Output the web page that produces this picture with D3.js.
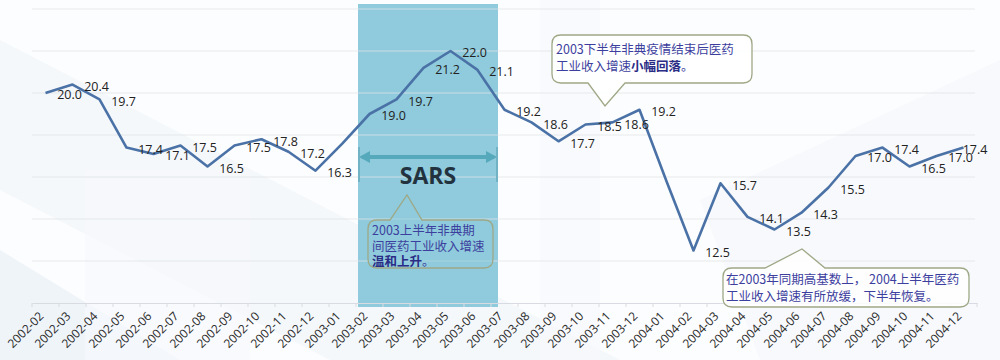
<!DOCTYPE html>
<html><head><meta charset="utf-8">
<script src="https://cdn.jsdelivr.net/npm/d3@7"></script>
<style>
html,body{margin:0;padding:0;background:#fff;}
svg{display:block;}
</style></head>
<body>
<svg id="chart" width="1000" height="360"></svg>
<script>
const categories = ["2002-02","2002-03","2002-04","2002-05","2002-06","2002-07","2002-08","2002-09","2002-10","2002-11","2002-12",
  "2003-01","2003-02","2003-03","2003-04","2003-05","2003-06","2003-07","2003-08","2003-09","2003-10","2003-11","2003-12",
  "2004-01","2004-02","2004-03","2004-04","2004-05","2004-06","2004-07","2004-08","2004-09","2004-10","2004-11","2004-12"];
const values = [20.0,20.4,19.7,17.4,17.1,17.5,16.5,17.5,17.8,17.2,16.3,
  17.6,19.0,19.7,21.2,22.0,21.1,19.2,18.6,17.7,18.5,18.6,19.2,
  15.8,12.5,15.7,14.1,13.5,14.3,15.5,17.0,17.4,16.5,17.0,17.4];
const showLabel = [1,1,1,1,1,1,1,1,1,1,1, 0,1,1,1,1,1,1,1,1,1,1,1, 0,1,1,1,1,1,1,1,1,1,1,1];
const yTicks = [10,12,14,16,18,20,22,24];
const sarsRange = ["2003-02","2003-06"];
const sarsLabel = "SARS";
const notes = [
  {lines:[[["2003上半年非典期",0]],[["间医药工业收入增速",0]],[["温和上升",1],["。",0]]]},
  {lines:[[["2003下半年非典疫情结束后医药",0]],[["工业收入增速",0],["小幅回落",1],["。",0]]]},
  {lines:[[["在2003年同期高基数上， 2004上半年医药",0]],[["工业收入增速有所放缓，下半年恢复。",0]]]}
];

const svg = d3.select("#chart");
const W = 1000, H = 360;
const x0 = 32, x1 = 977, yTop = 9, yBot = 303;
const x = d3.scaleBand().domain(categories).range([x0, x1]).padding(0);
const y = d3.scaleLinear().domain([10, 24]).range([yBot, yTop]);
const cx = d => x(d) + x.bandwidth()/2;

// background watermark
const bg = svg.append("g");
bg.append("rect").attr("width", W).attr("height", H).attr("fill", "#fcfdfe");
bg.append("path").attr("d","M0,40 L0,190 L330,360 L620,360 Z").attr("fill","#f1f5f9").attr("opacity",0.7);
bg.append("path").attr("d","M0,250 L0,360 L180,360 Z").attr("fill","#eaf0f6").attr("opacity",0.7);
bg.append("path").attr("d","M85,170 L250,170 L250,360 L85,360 Z").attr("fill","#f6f8fb").attr("opacity",0.6);
bg.append("path").attr("d","M700,200 L1000,60 L1000,360 L760,360 Z").attr("fill","#f3f6fa").attr("opacity",0.6);
bg.append("path").attr("d","M540,0 L600,0 L600,360 L540,360 Z").attr("fill","#f7f9fb").attr("opacity",0.6);

// SARS rect
const sx0 = x(sarsRange[0]) + 2, sx1 = x(sarsRange[1]) + x.bandwidth() + 7;
svg.append("rect").attr("x", sx0).attr("y", 4).attr("width", sx1 - sx0).attr("height", 303)
  .attr("fill", "#8fcbdc");

// gridlines
svg.append("g").selectAll("line").data(yTicks.slice(1)).join("line")
  .attr("x1", x0).attr("x2", x1 - 2)
  .attr("y1", d => y(d)).attr("y2", d => y(d))
  .attr("stroke", "#dfe3e8").attr("stroke-width", 1.2).attr("opacity", 0.75);

// x axis
const xAxis = d3.axisBottom(x).tickSize(0).tickFormat(() => "");
const gx = svg.append("g").attr("transform", `translate(0,${yBot})`).call(xAxis);
gx.select(".domain").attr("stroke", "#d8dce2").attr("stroke-width", 1.2);
gx.selectAll(".tick").remove();
const bounds = categories.map(c => x(c)).concat([x1]);
svg.append("g").selectAll("line").data(bounds).join("line")
  .attr("x1", d => d).attr("x2", d => d).attr("y1", yBot).attr("y2", yBot + 4)
  .attr("stroke", "#d8dce2").attr("stroke-width", 1);
svg.append("g").selectAll("text").data(categories).join("text")
  .attr("transform", d => `translate(${cx(d) - 4},${yBot + 11}) rotate(-45)`)
  .attr("text-anchor", "end").attr("dy", "0.35em")
  .attr("font-family", "'Open Sans', 'Noto Sans', sans-serif").attr("font-size", 12)
  .attr("fill", "#2a2a2a").text(d => d);

// SARS double arrow
const ay = 157;
const ag = svg.append("g");
ag.append("line").attr("x1", sx0 + 4).attr("x2", sx1 - 4).attr("y1", ay).attr("y2", ay)
  .attr("stroke", "#56a9bb").attr("stroke-width", 4);
ag.append("path").attr("d", `M${sx0+1},${ay} L${sx0+12},${ay-6} L${sx0+12},${ay+6} Z`).attr("fill", "#56a9bb");
ag.append("path").attr("d", `M${sx1-1},${ay} L${sx1-12},${ay-6} L${sx1-12},${ay+6} Z`).attr("fill", "#56a9bb");
ag.append("line").attr("x1", sx0+1).attr("x2", sx0+1).attr("y1", ay-10).attr("y2", ay+25).attr("stroke", "#6fb3c4").attr("stroke-width", 2);
ag.append("line").attr("x1", sx1-1).attr("x2", sx1-1).attr("y1", ay-10).attr("y2", ay+25).attr("stroke", "#6fb3c4").attr("stroke-width", 2);
ag.append("text").attr("x", (sx0 + sx1)/2).attr("y", 184).attr("text-anchor", "middle")
  .attr("font-family", "'Open Sans', 'Noto Sans', sans-serif").attr("font-weight", "bold")
  .attr("font-size", 23).attr("fill", "#23323f").text(sarsLabel);

// line
const line = d3.line().x((d, i) => cx(categories[i])).y(d => y(d));
svg.append("path").datum(values).attr("d", line)
  .attr("fill", "none").attr("stroke", "#4b72a6").attr("stroke-width", 2.6)
  .attr("stroke-linejoin", "round");

// data labels
svg.append("g").selectAll("text").data(values.map((v, i) => ({v, i})).filter(d => showLabel[d.i])).join("text")
  .attr("x", d => Math.min(cx(categories[d.i]) + 24, 975))
  .attr("y", d => y(d.v) + 2).attr("dy", "0.35em").attr("text-anchor", "middle")
  .attr("font-family", "'Open Sans', 'Noto Sans', sans-serif").attr("font-size", 12.5)
  .attr("fill", "#222").text(d => d.v.toFixed(1));

// callouts
function callout(box, tip, base, note, fill, tx, ty, lh) {
  const r = 9;
  const {x: bx, y: by, w, h} = box;
  const top = base.side === "top";
  let d;
  if (top) {
    d = `M${bx+r},${by} L${base.x0},${by} L${tip.x},${tip.y} L${base.x1},${by} L${bx+w-r},${by} Q${bx+w},${by} ${bx+w},${by+r} L${bx+w},${by+h-r} Q${bx+w},${by+h} ${bx+w-r},${by+h} L${bx+r},${by+h} Q${bx},${by+h} ${bx},${by+h-r} L${bx},${by+r} Q${bx},${by} ${bx+r},${by} Z`;
  } else {
    d = `M${bx+r},${by} L${bx+w-r},${by} Q${bx+w},${by} ${bx+w},${by+r} L${bx+w},${by+h-r} Q${bx+w},${by+h} ${bx+w-r},${by+h} L${base.x1},${by+h} L${tip.x},${tip.y} L${base.x0},${by+h} L${bx+r},${by+h} Q${bx},${by+h} ${bx},${by+h-r} L${bx},${by+r} Q${bx},${by} ${bx+r},${by} Z`;
  }
  const g = svg.append("g");
  g.append("path").attr("d", d).attr("fill", fill).attr("stroke", "#9ea886").attr("stroke-width", 1.3);
  note.lines.forEach((ln, li) => {
    const t = g.append("text").attr("x", tx).attr("y", ty + li * lh)
      .attr("font-family", "'Noto Sans CJK SC', sans-serif").attr("font-size", 12.5).attr("fill", "#3d3f9e");
    ln.forEach(([s, b]) => t.append("tspan").attr("font-weight", b ? "bold" : "normal").attr("fill", b ? "#2a2c86" : "#3d3f9e").text(s));
  });
}
callout({x: 368, y: 220, w: 125, h: 48}, {x: 407, y: 195}, {side: "top", x0: 390, x1: 422}, notes[0], "rgba(143,203,220,0.6)", 372, 235, 15.5);
callout({x: 552, y: 35, w: 200, h: 48}, {x: 605, y: 106}, {side: "bottom", x0: 588, x1: 625}, notes[1], "rgba(255,255,255,0.85)", 556, 54, 17);
callout({x: 723, y: 268, w: 246, h: 39}, {x: 802, y: 249}, {side: "top", x0: 765, x1: 825}, notes[2], "rgba(255,255,255,0.85)", 726, 284, 16.5);
</script>
</body></html>
